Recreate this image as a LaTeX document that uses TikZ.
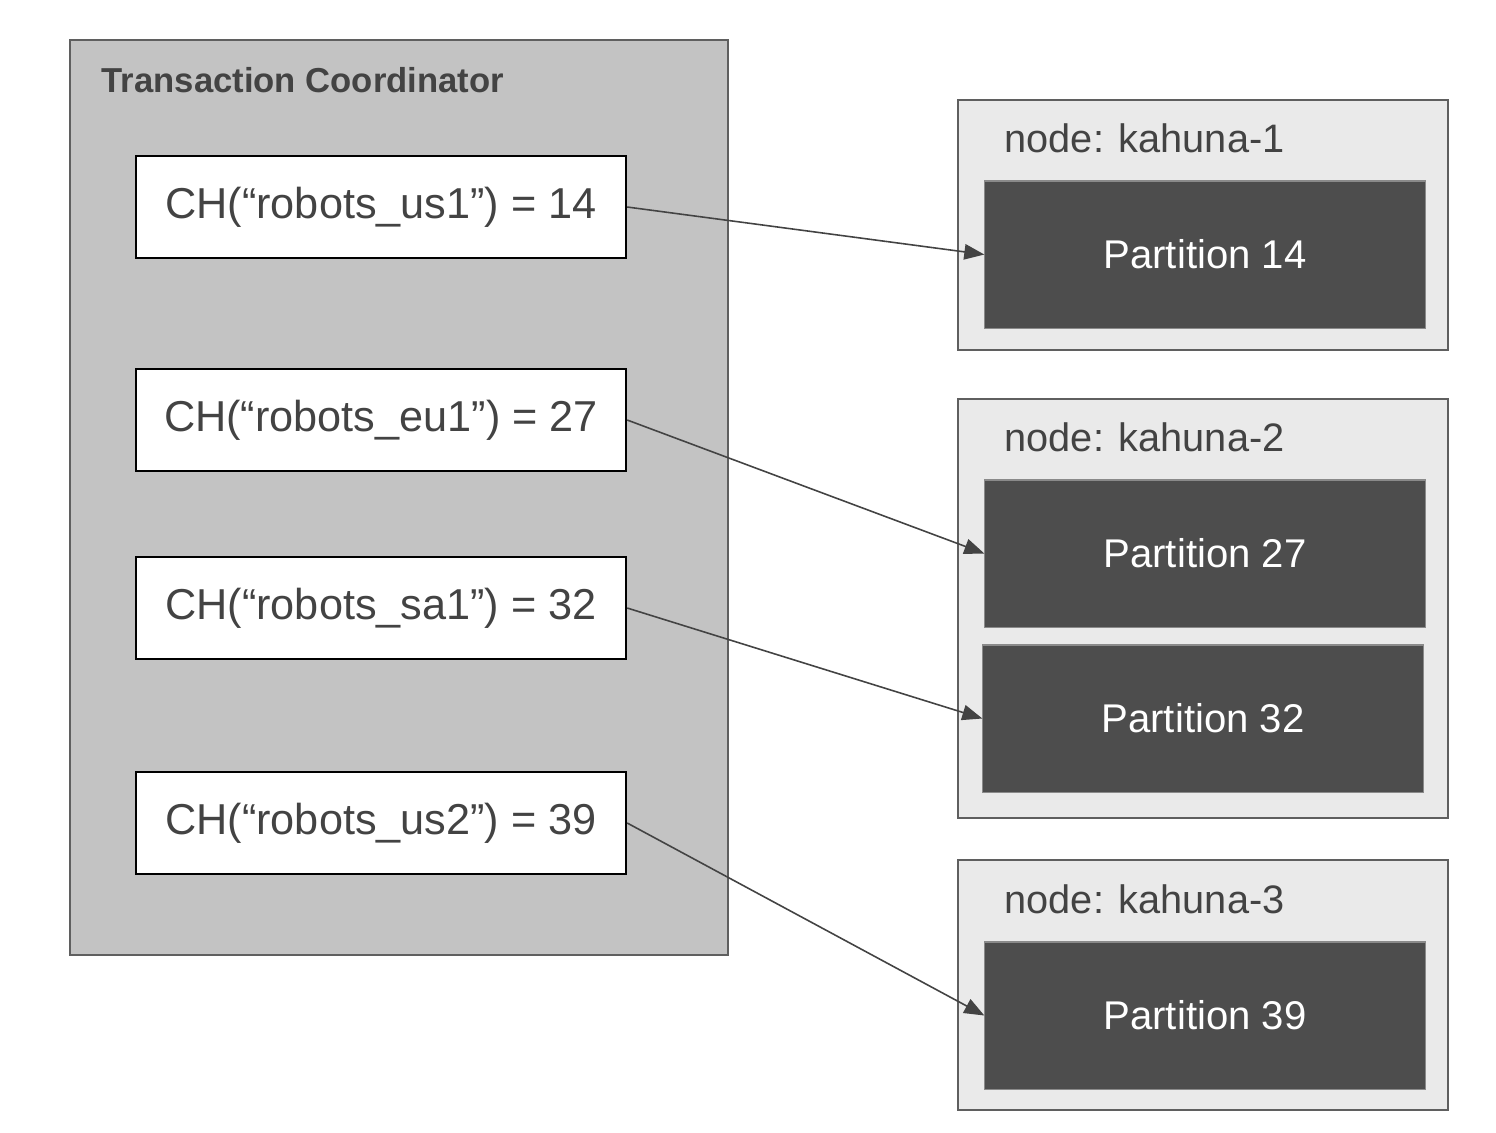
\documentclass[tikz,border=0pt]{standalone}
\usepackage{fontspec}
\setmainfont{Liberation Sans}
\usetikzlibrary{arrows.meta}
\definecolor{txt}{HTML}{434343}
\definecolor{coordfill}{HTML}{C3C3C3}
\definecolor{coordline}{HTML}{5F5F5F}
\definecolor{hostfill}{HTML}{EAEAEA}
\definecolor{hostline}{HTML}{5F5F5F}
\definecolor{partfill}{HTML}{4D4D4D}
\definecolor{partline}{HTML}{8A8A8A}
\tikzset{
  coordbox/.style={draw=coordline, fill=coordfill, line width=0.45pt, minimum width=6.58cm, minimum height=9.15cm, inner sep=0pt},
  chbox/.style={draw=black, fill=white, line width=0.6pt, minimum width=4.9cm, minimum height=1.02cm, inner sep=0pt, text=txt, font=\fontsize{12.3pt}{14pt}\selectfont},
  hostbox/.style={draw=hostline, fill=hostfill, line width=0.45pt, minimum width=4.9cm, inner sep=0pt},
  partbox/.style={draw=partline, fill=partfill, line width=0.3pt, minimum width=4.4cm, minimum height=1.47cm, inner sep=0pt, text=white, font=\fontsize{11.4pt}{13pt}\selectfont},
  hostlabel/.style={anchor=west, inner sep=0pt, text=txt, font=\fontsize{11.3pt}{13pt}\selectfont},
  titlelabel/.style={anchor=west, inner sep=0pt, text=txt, font=\bfseries\fontsize{9.85pt}{12pt}\selectfont},
  link/.style={draw=txt, line width=0.45pt, -{Triangle[length=5.7pt,width=4.4pt]}}
}
\begin{document}
\begin{tikzpicture}[x=0.01cm,y=-0.01cm]
\useasboundingbox (0,0) rectangle (1496,1132);
\node[coordbox] (coord) at (399,497.5) {};
\node[titlelabel] (title) at (101,80) {Transaction Coordinator};
\node[chbox] (ch1) at (381,207) {CH(“robots\_us1”) = 14};
\node[chbox] (ch2) at (381,420) {CH(“robots\_eu1”) = 27};
\node[chbox] (ch3) at (381,608) {CH(“robots\_sa1”) = 32};
\node[chbox] (ch4) at (381,823) {CH(“robots\_us2”) = 39};

\node[hostbox, minimum height=2.5cm] (k1) at (1203,225) {};
\node[hostbox, minimum height=4.19cm] (k2) at (1203,608.5) {};
\node[hostbox, minimum height=2.5cm] (k3) at (1203,985) {};
\node[hostlabel] (l1) at (1004,138) {node: kahuna-1};
\node[hostlabel] (l2) at (1004,437) {node: kahuna-2};
\node[hostlabel] (l3) at (1004,899) {node: kahuna-3};

\node[partbox] (p14) at (1205,254.5) {\raisebox{-0.6pt}{Partition 14}};
\node[partbox] (p27) at (1205,553.5) {\raisebox{-0.6pt}{Partition 27}};
\node[partbox] (p32) at (1203,718.5) {\raisebox{-0.6pt}{Partition 32}};
\node[partbox] (p39) at (1205,1015.5) {\raisebox{-0.6pt}{Partition 39}};

\draw[link] (ch1.east) -- (p14.west);
\draw[link] (ch2.east) -- (p27.west);
\draw[link] (ch3.east) -- (p32.west);
\draw[link] (ch4.east) -- (p39.west);
\end{tikzpicture}
\end{document}
